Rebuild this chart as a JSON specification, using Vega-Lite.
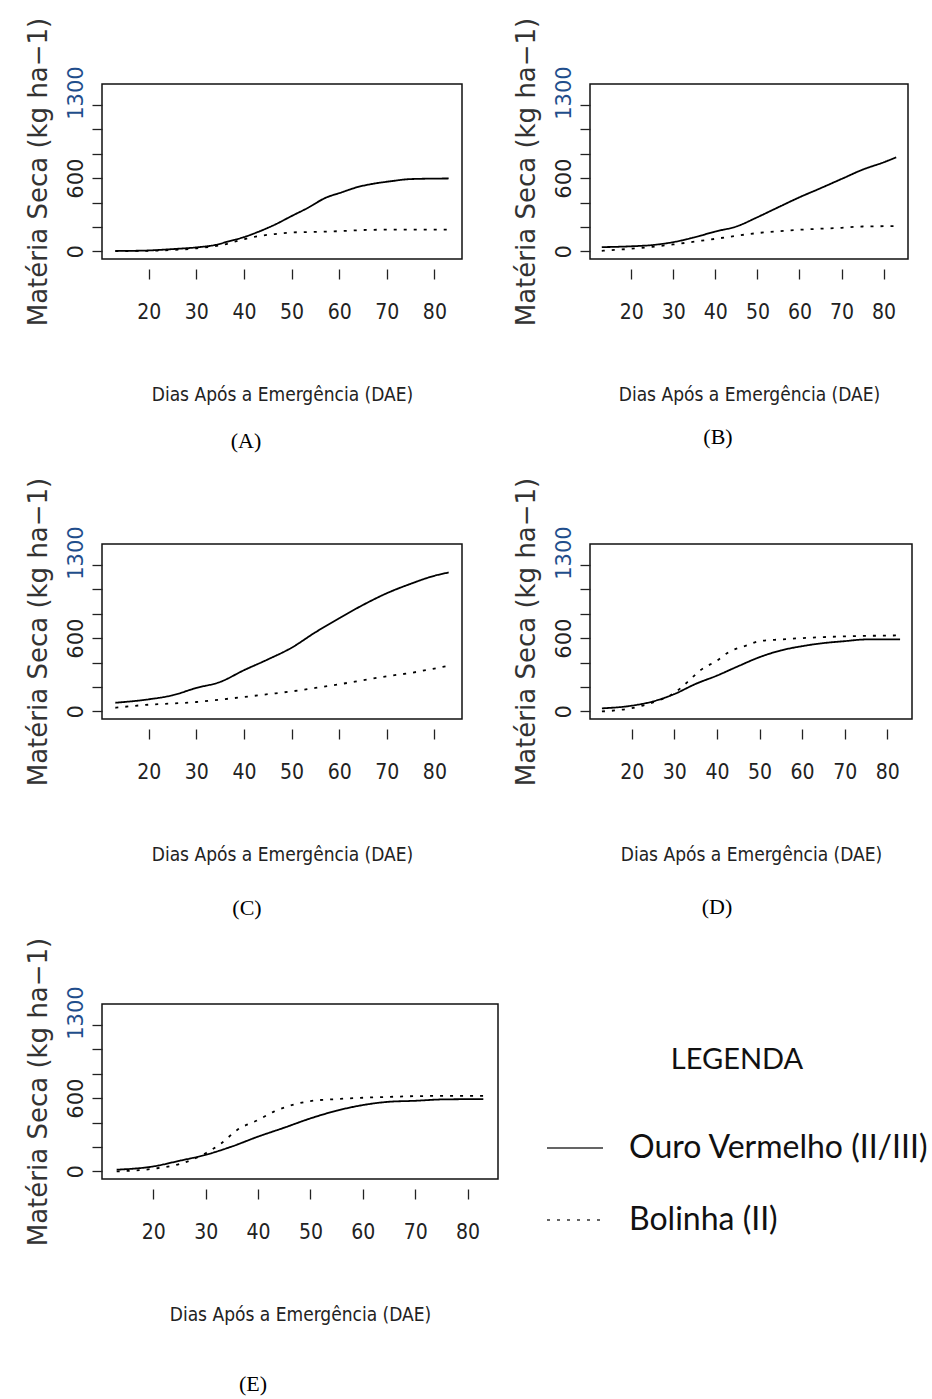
{
  "$schema": "https://vega.github.io/schema/vega-lite/v6.json",
  "background": "white",
  "padding": {"left": 24, "top": 16, "right": 0, "bottom": 0},
  "autosize": {"type": "pad"},
  "columns": 2,
  "bounds": "flush",
  "align": "each",
  "spacing": {"row": 285, "column": 92},
  "datasets": {
    "curvas": [
      {"painel": "A", "cultivar": "Ouro Vermelho (II/III)", "dae": 13, "ms": 5},
      {"painel": "A", "cultivar": "Ouro Vermelho (II/III)", "dae": 16, "ms": 5},
      {"painel": "A", "cultivar": "Ouro Vermelho (II/III)", "dae": 20, "ms": 8},
      {"painel": "A", "cultivar": "Ouro Vermelho (II/III)", "dae": 25, "ms": 19},
      {"painel": "A", "cultivar": "Ouro Vermelho (II/III)", "dae": 30, "ms": 33},
      {"painel": "A", "cultivar": "Ouro Vermelho (II/III)", "dae": 34, "ms": 53},
      {"painel": "A", "cultivar": "Ouro Vermelho (II/III)", "dae": 37, "ms": 85},
      {"painel": "A", "cultivar": "Ouro Vermelho (II/III)", "dae": 40, "ms": 117},
      {"painel": "A", "cultivar": "Ouro Vermelho (II/III)", "dae": 43, "ms": 160},
      {"painel": "A", "cultivar": "Ouro Vermelho (II/III)", "dae": 46.5, "ms": 219},
      {"painel": "A", "cultivar": "Ouro Vermelho (II/III)", "dae": 50, "ms": 289},
      {"painel": "A", "cultivar": "Ouro Vermelho (II/III)", "dae": 53.5, "ms": 358},
      {"painel": "A", "cultivar": "Ouro Vermelho (II/III)", "dae": 57, "ms": 436},
      {"painel": "A", "cultivar": "Ouro Vermelho (II/III)", "dae": 60.5, "ms": 483},
      {"painel": "A", "cultivar": "Ouro Vermelho (II/III)", "dae": 64, "ms": 528},
      {"painel": "A", "cultivar": "Ouro Vermelho (II/III)", "dae": 67.5, "ms": 556},
      {"painel": "A", "cultivar": "Ouro Vermelho (II/III)", "dae": 71, "ms": 575},
      {"painel": "A", "cultivar": "Ouro Vermelho (II/III)", "dae": 75, "ms": 592},
      {"painel": "A", "cultivar": "Ouro Vermelho (II/III)", "dae": 83, "ms": 597},
      {"painel": "A", "cultivar": "Bolinha (II)", "dae": 13, "ms": 3},
      {"painel": "A", "cultivar": "Bolinha (II)", "dae": 20, "ms": 5},
      {"painel": "A", "cultivar": "Bolinha (II)", "dae": 25, "ms": 12},
      {"painel": "A", "cultivar": "Bolinha (II)", "dae": 30, "ms": 25},
      {"painel": "A", "cultivar": "Bolinha (II)", "dae": 35, "ms": 50},
      {"painel": "A", "cultivar": "Bolinha (II)", "dae": 40, "ms": 100},
      {"painel": "A", "cultivar": "Bolinha (II)", "dae": 43, "ms": 125},
      {"painel": "A", "cultivar": "Bolinha (II)", "dae": 46, "ms": 140},
      {"painel": "A", "cultivar": "Bolinha (II)", "dae": 50, "ms": 155},
      {"painel": "A", "cultivar": "Bolinha (II)", "dae": 55, "ms": 160},
      {"painel": "A", "cultivar": "Bolinha (II)", "dae": 60, "ms": 166},
      {"painel": "A", "cultivar": "Bolinha (II)", "dae": 65, "ms": 175},
      {"painel": "A", "cultivar": "Bolinha (II)", "dae": 70, "ms": 178},
      {"painel": "A", "cultivar": "Bolinha (II)", "dae": 75, "ms": 178},
      {"painel": "A", "cultivar": "Bolinha (II)", "dae": 83, "ms": 178},

      {"painel": "B", "cultivar": "Ouro Vermelho (II/III)", "dae": 13, "ms": 35},
      {"painel": "B", "cultivar": "Ouro Vermelho (II/III)", "dae": 20, "ms": 42},
      {"painel": "B", "cultivar": "Ouro Vermelho (II/III)", "dae": 25, "ms": 52},
      {"painel": "B", "cultivar": "Ouro Vermelho (II/III)", "dae": 30, "ms": 76},
      {"painel": "B", "cultivar": "Ouro Vermelho (II/III)", "dae": 35, "ms": 115},
      {"painel": "B", "cultivar": "Ouro Vermelho (II/III)", "dae": 40, "ms": 163},
      {"painel": "B", "cultivar": "Ouro Vermelho (II/III)", "dae": 45, "ms": 204},
      {"painel": "B", "cultivar": "Ouro Vermelho (II/III)", "dae": 50, "ms": 280},
      {"painel": "B", "cultivar": "Ouro Vermelho (II/III)", "dae": 55, "ms": 362},
      {"painel": "B", "cultivar": "Ouro Vermelho (II/III)", "dae": 60, "ms": 443},
      {"painel": "B", "cultivar": "Ouro Vermelho (II/III)", "dae": 65, "ms": 517},
      {"painel": "B", "cultivar": "Ouro Vermelho (II/III)", "dae": 70, "ms": 593},
      {"painel": "B", "cultivar": "Ouro Vermelho (II/III)", "dae": 75, "ms": 669},
      {"painel": "B", "cultivar": "Ouro Vermelho (II/III)", "dae": 80, "ms": 729},
      {"painel": "B", "cultivar": "Ouro Vermelho (II/III)", "dae": 83, "ms": 770},
      {"painel": "B", "cultivar": "Bolinha (II)", "dae": 13, "ms": 5},
      {"painel": "B", "cultivar": "Bolinha (II)", "dae": 20, "ms": 22},
      {"painel": "B", "cultivar": "Bolinha (II)", "dae": 25, "ms": 38},
      {"painel": "B", "cultivar": "Bolinha (II)", "dae": 30, "ms": 57},
      {"painel": "B", "cultivar": "Bolinha (II)", "dae": 35, "ms": 80},
      {"painel": "B", "cultivar": "Bolinha (II)", "dae": 40, "ms": 103},
      {"painel": "B", "cultivar": "Bolinha (II)", "dae": 45, "ms": 128},
      {"painel": "B", "cultivar": "Bolinha (II)", "dae": 50, "ms": 150},
      {"painel": "B", "cultivar": "Bolinha (II)", "dae": 55, "ms": 165},
      {"painel": "B", "cultivar": "Bolinha (II)", "dae": 60, "ms": 177},
      {"painel": "B", "cultivar": "Bolinha (II)", "dae": 65, "ms": 186},
      {"painel": "B", "cultivar": "Bolinha (II)", "dae": 70, "ms": 193},
      {"painel": "B", "cultivar": "Bolinha (II)", "dae": 75, "ms": 204},
      {"painel": "B", "cultivar": "Bolinha (II)", "dae": 83, "ms": 207},

      {"painel": "C", "cultivar": "Ouro Vermelho (II/III)", "dae": 13, "ms": 71},
      {"painel": "C", "cultivar": "Ouro Vermelho (II/III)", "dae": 20, "ms": 99},
      {"painel": "C", "cultivar": "Ouro Vermelho (II/III)", "dae": 25, "ms": 132},
      {"painel": "C", "cultivar": "Ouro Vermelho (II/III)", "dae": 30, "ms": 192},
      {"painel": "C", "cultivar": "Ouro Vermelho (II/III)", "dae": 35, "ms": 241},
      {"painel": "C", "cultivar": "Ouro Vermelho (II/III)", "dae": 40, "ms": 337},
      {"painel": "C", "cultivar": "Ouro Vermelho (II/III)", "dae": 45, "ms": 425},
      {"painel": "C", "cultivar": "Ouro Vermelho (II/III)", "dae": 50, "ms": 521},
      {"painel": "C", "cultivar": "Ouro Vermelho (II/III)", "dae": 55, "ms": 647},
      {"painel": "C", "cultivar": "Ouro Vermelho (II/III)", "dae": 60, "ms": 762},
      {"painel": "C", "cultivar": "Ouro Vermelho (II/III)", "dae": 65, "ms": 871},
      {"painel": "C", "cultivar": "Ouro Vermelho (II/III)", "dae": 70, "ms": 967},
      {"painel": "C", "cultivar": "Ouro Vermelho (II/III)", "dae": 75, "ms": 1044},
      {"painel": "C", "cultivar": "Ouro Vermelho (II/III)", "dae": 80, "ms": 1110},
      {"painel": "C", "cultivar": "Ouro Vermelho (II/III)", "dae": 83, "ms": 1137},
      {"painel": "C", "cultivar": "Bolinha (II)", "dae": 13, "ms": 30},
      {"painel": "C", "cultivar": "Bolinha (II)", "dae": 20, "ms": 55},
      {"painel": "C", "cultivar": "Bolinha (II)", "dae": 25, "ms": 65},
      {"painel": "C", "cultivar": "Bolinha (II)", "dae": 30, "ms": 77},
      {"painel": "C", "cultivar": "Bolinha (II)", "dae": 35, "ms": 97},
      {"painel": "C", "cultivar": "Bolinha (II)", "dae": 40, "ms": 118},
      {"painel": "C", "cultivar": "Bolinha (II)", "dae": 45, "ms": 141},
      {"painel": "C", "cultivar": "Bolinha (II)", "dae": 50, "ms": 164},
      {"painel": "C", "cultivar": "Bolinha (II)", "dae": 55, "ms": 192},
      {"painel": "C", "cultivar": "Bolinha (II)", "dae": 60, "ms": 222},
      {"painel": "C", "cultivar": "Bolinha (II)", "dae": 65, "ms": 255},
      {"painel": "C", "cultivar": "Bolinha (II)", "dae": 70, "ms": 288},
      {"painel": "C", "cultivar": "Bolinha (II)", "dae": 75, "ms": 315},
      {"painel": "C", "cultivar": "Bolinha (II)", "dae": 80, "ms": 351},
      {"painel": "C", "cultivar": "Bolinha (II)", "dae": 83, "ms": 373},

      {"painel": "D", "cultivar": "Ouro Vermelho (II/III)", "dae": 13, "ms": 25},
      {"painel": "D", "cultivar": "Ouro Vermelho (II/III)", "dae": 20, "ms": 47},
      {"painel": "D", "cultivar": "Ouro Vermelho (II/III)", "dae": 25, "ms": 82},
      {"painel": "D", "cultivar": "Ouro Vermelho (II/III)", "dae": 30, "ms": 142},
      {"painel": "D", "cultivar": "Ouro Vermelho (II/III)", "dae": 35, "ms": 225},
      {"painel": "D", "cultivar": "Ouro Vermelho (II/III)", "dae": 40, "ms": 293},
      {"painel": "D", "cultivar": "Ouro Vermelho (II/III)", "dae": 45, "ms": 370},
      {"painel": "D", "cultivar": "Ouro Vermelho (II/III)", "dae": 50, "ms": 444},
      {"painel": "D", "cultivar": "Ouro Vermelho (II/III)", "dae": 55, "ms": 499},
      {"painel": "D", "cultivar": "Ouro Vermelho (II/III)", "dae": 60, "ms": 534},
      {"painel": "D", "cultivar": "Ouro Vermelho (II/III)", "dae": 65, "ms": 559},
      {"painel": "D", "cultivar": "Ouro Vermelho (II/III)", "dae": 70, "ms": 575},
      {"painel": "D", "cultivar": "Ouro Vermelho (II/III)", "dae": 75, "ms": 589},
      {"painel": "D", "cultivar": "Ouro Vermelho (II/III)", "dae": 83, "ms": 590},
      {"painel": "D", "cultivar": "Bolinha (II)", "dae": 13, "ms": 0},
      {"painel": "D", "cultivar": "Bolinha (II)", "dae": 20, "ms": 27},
      {"painel": "D", "cultivar": "Bolinha (II)", "dae": 25, "ms": 74},
      {"painel": "D", "cultivar": "Bolinha (II)", "dae": 30, "ms": 151},
      {"painel": "D", "cultivar": "Bolinha (II)", "dae": 33, "ms": 238},
      {"painel": "D", "cultivar": "Bolinha (II)", "dae": 36, "ms": 334},
      {"painel": "D", "cultivar": "Bolinha (II)", "dae": 40, "ms": 416},
      {"painel": "D", "cultivar": "Bolinha (II)", "dae": 43, "ms": 490},
      {"painel": "D", "cultivar": "Bolinha (II)", "dae": 47, "ms": 540},
      {"painel": "D", "cultivar": "Bolinha (II)", "dae": 50, "ms": 575},
      {"painel": "D", "cultivar": "Bolinha (II)", "dae": 55, "ms": 589},
      {"painel": "D", "cultivar": "Bolinha (II)", "dae": 60, "ms": 600},
      {"painel": "D", "cultivar": "Bolinha (II)", "dae": 65, "ms": 608},
      {"painel": "D", "cultivar": "Bolinha (II)", "dae": 70, "ms": 614},
      {"painel": "D", "cultivar": "Bolinha (II)", "dae": 75, "ms": 618},
      {"painel": "D", "cultivar": "Bolinha (II)", "dae": 83, "ms": 622},

      {"painel": "E", "cultivar": "Ouro Vermelho (II/III)", "dae": 13, "ms": 14},
      {"painel": "E", "cultivar": "Ouro Vermelho (II/III)", "dae": 20, "ms": 41},
      {"painel": "E", "cultivar": "Ouro Vermelho (II/III)", "dae": 25, "ms": 87},
      {"painel": "E", "cultivar": "Ouro Vermelho (II/III)", "dae": 30, "ms": 136},
      {"painel": "E", "cultivar": "Ouro Vermelho (II/III)", "dae": 35, "ms": 204},
      {"painel": "E", "cultivar": "Ouro Vermelho (II/III)", "dae": 40, "ms": 285},
      {"painel": "E", "cultivar": "Ouro Vermelho (II/III)", "dae": 45, "ms": 358},
      {"painel": "E", "cultivar": "Ouro Vermelho (II/III)", "dae": 50, "ms": 434},
      {"painel": "E", "cultivar": "Ouro Vermelho (II/III)", "dae": 55, "ms": 497},
      {"painel": "E", "cultivar": "Ouro Vermelho (II/III)", "dae": 60, "ms": 543},
      {"painel": "E", "cultivar": "Ouro Vermelho (II/III)", "dae": 65, "ms": 570},
      {"painel": "E", "cultivar": "Ouro Vermelho (II/III)", "dae": 70, "ms": 578},
      {"painel": "E", "cultivar": "Ouro Vermelho (II/III)", "dae": 75, "ms": 589},
      {"painel": "E", "cultivar": "Ouro Vermelho (II/III)", "dae": 83, "ms": 592},
      {"painel": "E", "cultivar": "Bolinha (II)", "dae": 13, "ms": 0},
      {"painel": "E", "cultivar": "Bolinha (II)", "dae": 20, "ms": 22},
      {"painel": "E", "cultivar": "Bolinha (II)", "dae": 25, "ms": 60},
      {"painel": "E", "cultivar": "Bolinha (II)", "dae": 30, "ms": 149},
      {"painel": "E", "cultivar": "Bolinha (II)", "dae": 33, "ms": 231},
      {"painel": "E", "cultivar": "Bolinha (II)", "dae": 36, "ms": 339},
      {"painel": "E", "cultivar": "Bolinha (II)", "dae": 40, "ms": 421},
      {"painel": "E", "cultivar": "Bolinha (II)", "dae": 43, "ms": 489},
      {"painel": "E", "cultivar": "Bolinha (II)", "dae": 47, "ms": 549},
      {"painel": "E", "cultivar": "Bolinha (II)", "dae": 50, "ms": 576},
      {"painel": "E", "cultivar": "Bolinha (II)", "dae": 55, "ms": 592},
      {"painel": "E", "cultivar": "Bolinha (II)", "dae": 60, "ms": 603},
      {"painel": "E", "cultivar": "Bolinha (II)", "dae": 65, "ms": 610},
      {"painel": "E", "cultivar": "Bolinha (II)", "dae": 70, "ms": 616},
      {"painel": "E", "cultivar": "Bolinha (II)", "dae": 75, "ms": 618},
      {"painel": "E", "cultivar": "Bolinha (II)", "dae": 83, "ms": 619}
    ]
  },
  "concat": [
    {
      "width": 360, "height": 175,
      "data": {"name": "curvas"},
      "title": {"text": "(A)", "dx": -36, "offset": 27},
      "transform": [{"filter": "datum.painel == 'A'"}],
      "mark": {"type": "line", "interpolate": "monotone", "color": "black", "strokeWidth": 1.8},
      "encoding": {
        "x": {"field": "dae", "type": "quantitative", "scale": {"domain": [10.2, 85.8], "nice": false, "zero": false}, "axis": {"title": "Dias Após a Emergência (DAE)", "values": [20, 30, 40, 50, 60, 70, 80]}},
        "y": {"field": "ms", "type": "quantitative", "scale": {"domain": [-62, 1370], "nice": false, "zero": false}, "axis": {"title": "Matéria Seca (kg ha−1)", "values": [0, 200, 400, 600, 800, 1000, 1200, 1300], "format": "d", "labelExpr": "datum.value == 0 || datum.value == 600 || datum.value == 1300 ? datum.label : ''", "tickOpacity": {"condition": {"test": "datum.value == 1300", "value": 0}, "value": 1}, "labelColor": {"condition": {"test": "datum.value == 1300", "value": "#1f4e8c"}, "value": "#222222"}}},
        "strokeDash": {"field": "cultivar", "type": "nominal", "scale": {"domain": ["Ouro Vermelho (II/III)", "Bolinha (II)"], "range": [[1, 0], [3, 7]]}, "legend": {"title": "LEGENDA", "orient": "none", "legendX": 444, "legendY": 962}}
      }
    },
    {
      "width": 318, "height": 175,
      "data": {"name": "curvas"},
      "title": {"text": "(B)", "dx": -31, "offset": 23},
      "transform": [{"filter": "datum.painel == 'B'"}],
      "mark": {"type": "line", "interpolate": "monotone", "color": "black", "strokeWidth": 1.8},
      "encoding": {
        "x": {"field": "dae", "type": "quantitative", "scale": {"domain": [10.2, 85.8], "nice": false, "zero": false}, "axis": {"title": "Dias Após a Emergência (DAE)", "values": [20, 30, 40, 50, 60, 70, 80]}},
        "y": {"field": "ms", "type": "quantitative", "scale": {"domain": [-62, 1370], "nice": false, "zero": false}, "axis": {"title": "Matéria Seca (kg ha−1)", "values": [0, 200, 400, 600, 800, 1000, 1200, 1300], "format": "d", "labelExpr": "datum.value == 0 || datum.value == 600 || datum.value == 1300 ? datum.label : ''", "tickOpacity": {"condition": {"test": "datum.value == 1300", "value": 0}, "value": 1}, "labelColor": {"condition": {"test": "datum.value == 1300", "value": "#1f4e8c"}, "value": "#222222"}}},
        "strokeDash": {"field": "cultivar", "type": "nominal", "scale": {"domain": ["Ouro Vermelho (II/III)", "Bolinha (II)"], "range": [[1, 0], [3, 7]]}, "legend": {"title": "LEGENDA", "orient": "none", "legendX": 444, "legendY": 962}}
      }
    },
    {
      "width": 360, "height": 175,
      "data": {"name": "curvas"},
      "title": {"text": "(C)", "dx": -35, "offset": 34},
      "transform": [{"filter": "datum.painel == 'C'"}],
      "mark": {"type": "line", "interpolate": "monotone", "color": "black", "strokeWidth": 1.8},
      "encoding": {
        "x": {"field": "dae", "type": "quantitative", "scale": {"domain": [10.2, 85.8], "nice": false, "zero": false}, "axis": {"title": "Dias Após a Emergência (DAE)", "values": [20, 30, 40, 50, 60, 70, 80]}},
        "y": {"field": "ms", "type": "quantitative", "scale": {"domain": [-62, 1370], "nice": false, "zero": false}, "axis": {"title": "Matéria Seca (kg ha−1)", "values": [0, 200, 400, 600, 800, 1000, 1200, 1300], "format": "d", "labelExpr": "datum.value == 0 || datum.value == 600 || datum.value == 1300 ? datum.label : ''", "tickOpacity": {"condition": {"test": "datum.value == 1300", "value": 0}, "value": 1}, "labelColor": {"condition": {"test": "datum.value == 1300", "value": "#1f4e8c"}, "value": "#222222"}}},
        "strokeDash": {"field": "cultivar", "type": "nominal", "scale": {"domain": ["Ouro Vermelho (II/III)", "Bolinha (II)"], "range": [[1, 0], [3, 7]]}, "legend": {"title": "LEGENDA", "orient": "none", "legendX": 444, "legendY": 962}}
      }
    },
    {
      "width": 322, "height": 175,
      "data": {"name": "curvas"},
      "title": {"text": "(D)", "dx": -34, "offset": 33},
      "transform": [{"filter": "datum.painel == 'D'"}],
      "mark": {"type": "line", "interpolate": "monotone", "color": "black", "strokeWidth": 1.8},
      "encoding": {
        "x": {"field": "dae", "type": "quantitative", "scale": {"domain": [10.2, 85.8], "nice": false, "zero": false}, "axis": {"title": "Dias Após a Emergência (DAE)", "values": [20, 30, 40, 50, 60, 70, 80]}},
        "y": {"field": "ms", "type": "quantitative", "scale": {"domain": [-62, 1370], "nice": false, "zero": false}, "axis": {"title": "Matéria Seca (kg ha−1)", "values": [0, 200, 400, 600, 800, 1000, 1200, 1300], "format": "d", "labelExpr": "datum.value == 0 || datum.value == 600 || datum.value == 1300 ? datum.label : ''", "tickOpacity": {"condition": {"test": "datum.value == 1300", "value": 0}, "value": 1}, "labelColor": {"condition": {"test": "datum.value == 1300", "value": "#1f4e8c"}, "value": "#222222"}}},
        "strokeDash": {"field": "cultivar", "type": "nominal", "scale": {"domain": ["Ouro Vermelho (II/III)", "Bolinha (II)"], "range": [[1, 0], [3, 7]]}, "legend": {"title": "LEGENDA", "orient": "none", "legendX": 444, "legendY": 962}}
      }
    },
    {
      "width": 396, "height": 175,
      "data": {"name": "curvas"},
      "title": {"text": "(E)", "dx": -47, "offset": 50},
      "transform": [{"filter": "datum.painel == 'E'"}],
      "mark": {"type": "line", "interpolate": "monotone", "color": "black", "strokeWidth": 1.8},
      "encoding": {
        "x": {"field": "dae", "type": "quantitative", "scale": {"domain": [10.2, 85.8], "nice": false, "zero": false}, "axis": {"title": "Dias Após a Emergência (DAE)", "values": [20, 30, 40, 50, 60, 70, 80]}},
        "y": {"field": "ms", "type": "quantitative", "scale": {"domain": [-62, 1370], "nice": false, "zero": false}, "axis": {"title": "Matéria Seca (kg ha−1)", "values": [0, 200, 400, 600, 800, 1000, 1200, 1300], "format": "d", "labelExpr": "datum.value == 0 || datum.value == 600 || datum.value == 1300 ? datum.label : ''", "tickOpacity": {"condition": {"test": "datum.value == 1300", "value": 0}, "value": 1}, "labelColor": {"condition": {"test": "datum.value == 1300", "value": "#1f4e8c"}, "value": "#222222"}}},
        "strokeDash": {"field": "cultivar", "type": "nominal", "scale": {"domain": ["Ouro Vermelho (II/III)", "Bolinha (II)"], "range": [[1, 0], [3, 7]]}, "legend": {"title": "LEGENDA", "orient": "none", "legendX": 444, "legendY": 962}}
      }
    }
  ],
  "config": {
    "view": {"stroke": "#111111", "strokeWidth": 1.5},
    "title": {"orient": "bottom", "anchor": "middle", "font": "Liberation Serif", "fontSize": 22, "fontWeight": "normal", "color": "#000000"},
    "axisX": {
      "offset": 10, "tickSize": 10, "tickColor": "#222222", "tickWidth": 1.3, "domain": false, "grid": false,
      "labelFont": "DejaVu Sans Condensed, DejaVu Sans", "labelFontSize": 21, "labelPadding": 22, "labelColor": "#222222", "labelFlush": false, "labelOverlap": false,
      "titleFont": "DejaVu Sans Condensed, DejaVu Sans", "titleFontSize": 19, "titleFontWeight": "normal", "titleColor": "#222222", "titlePadding": 63
    },
    "axisY": {
      "offset": 0, "tickSize": 10, "tickColor": "#222222", "tickWidth": 1.3, "domain": false, "grid": false,
      "labelFont": "DejaVu Sans", "labelFontSize": 21, "labelAngle": -90, "labelAlign": "center", "labelBaseline": "bottom", "labelPadding": 6, "labelFlush": false, "labelOverlap": false,
      "titleFont": "DejaVu Sans", "titleFontSize": 26, "titleFontWeight": "normal", "titleColor": "#333333", "titlePadding": 14
    },
    "legend": {
      "symbolType": "stroke", "symbolSize": 3136, "symbolStrokeWidth": 1.6, "symbolStrokeColor": "#333333",
      "labelFont": "Lato", "labelFontSize": 32, "labelColor": "#111111", "labelOffset": 25, "labelLimit": 500,
      "rowPadding": 27,
      "titleFont": "Lato", "titleFontSize": 29, "titleFontWeight": "normal", "titleColor": "#111111", "titleAnchor": "middle", "titlePadding": 44, "titleLimit": 500
    }
  }
}
